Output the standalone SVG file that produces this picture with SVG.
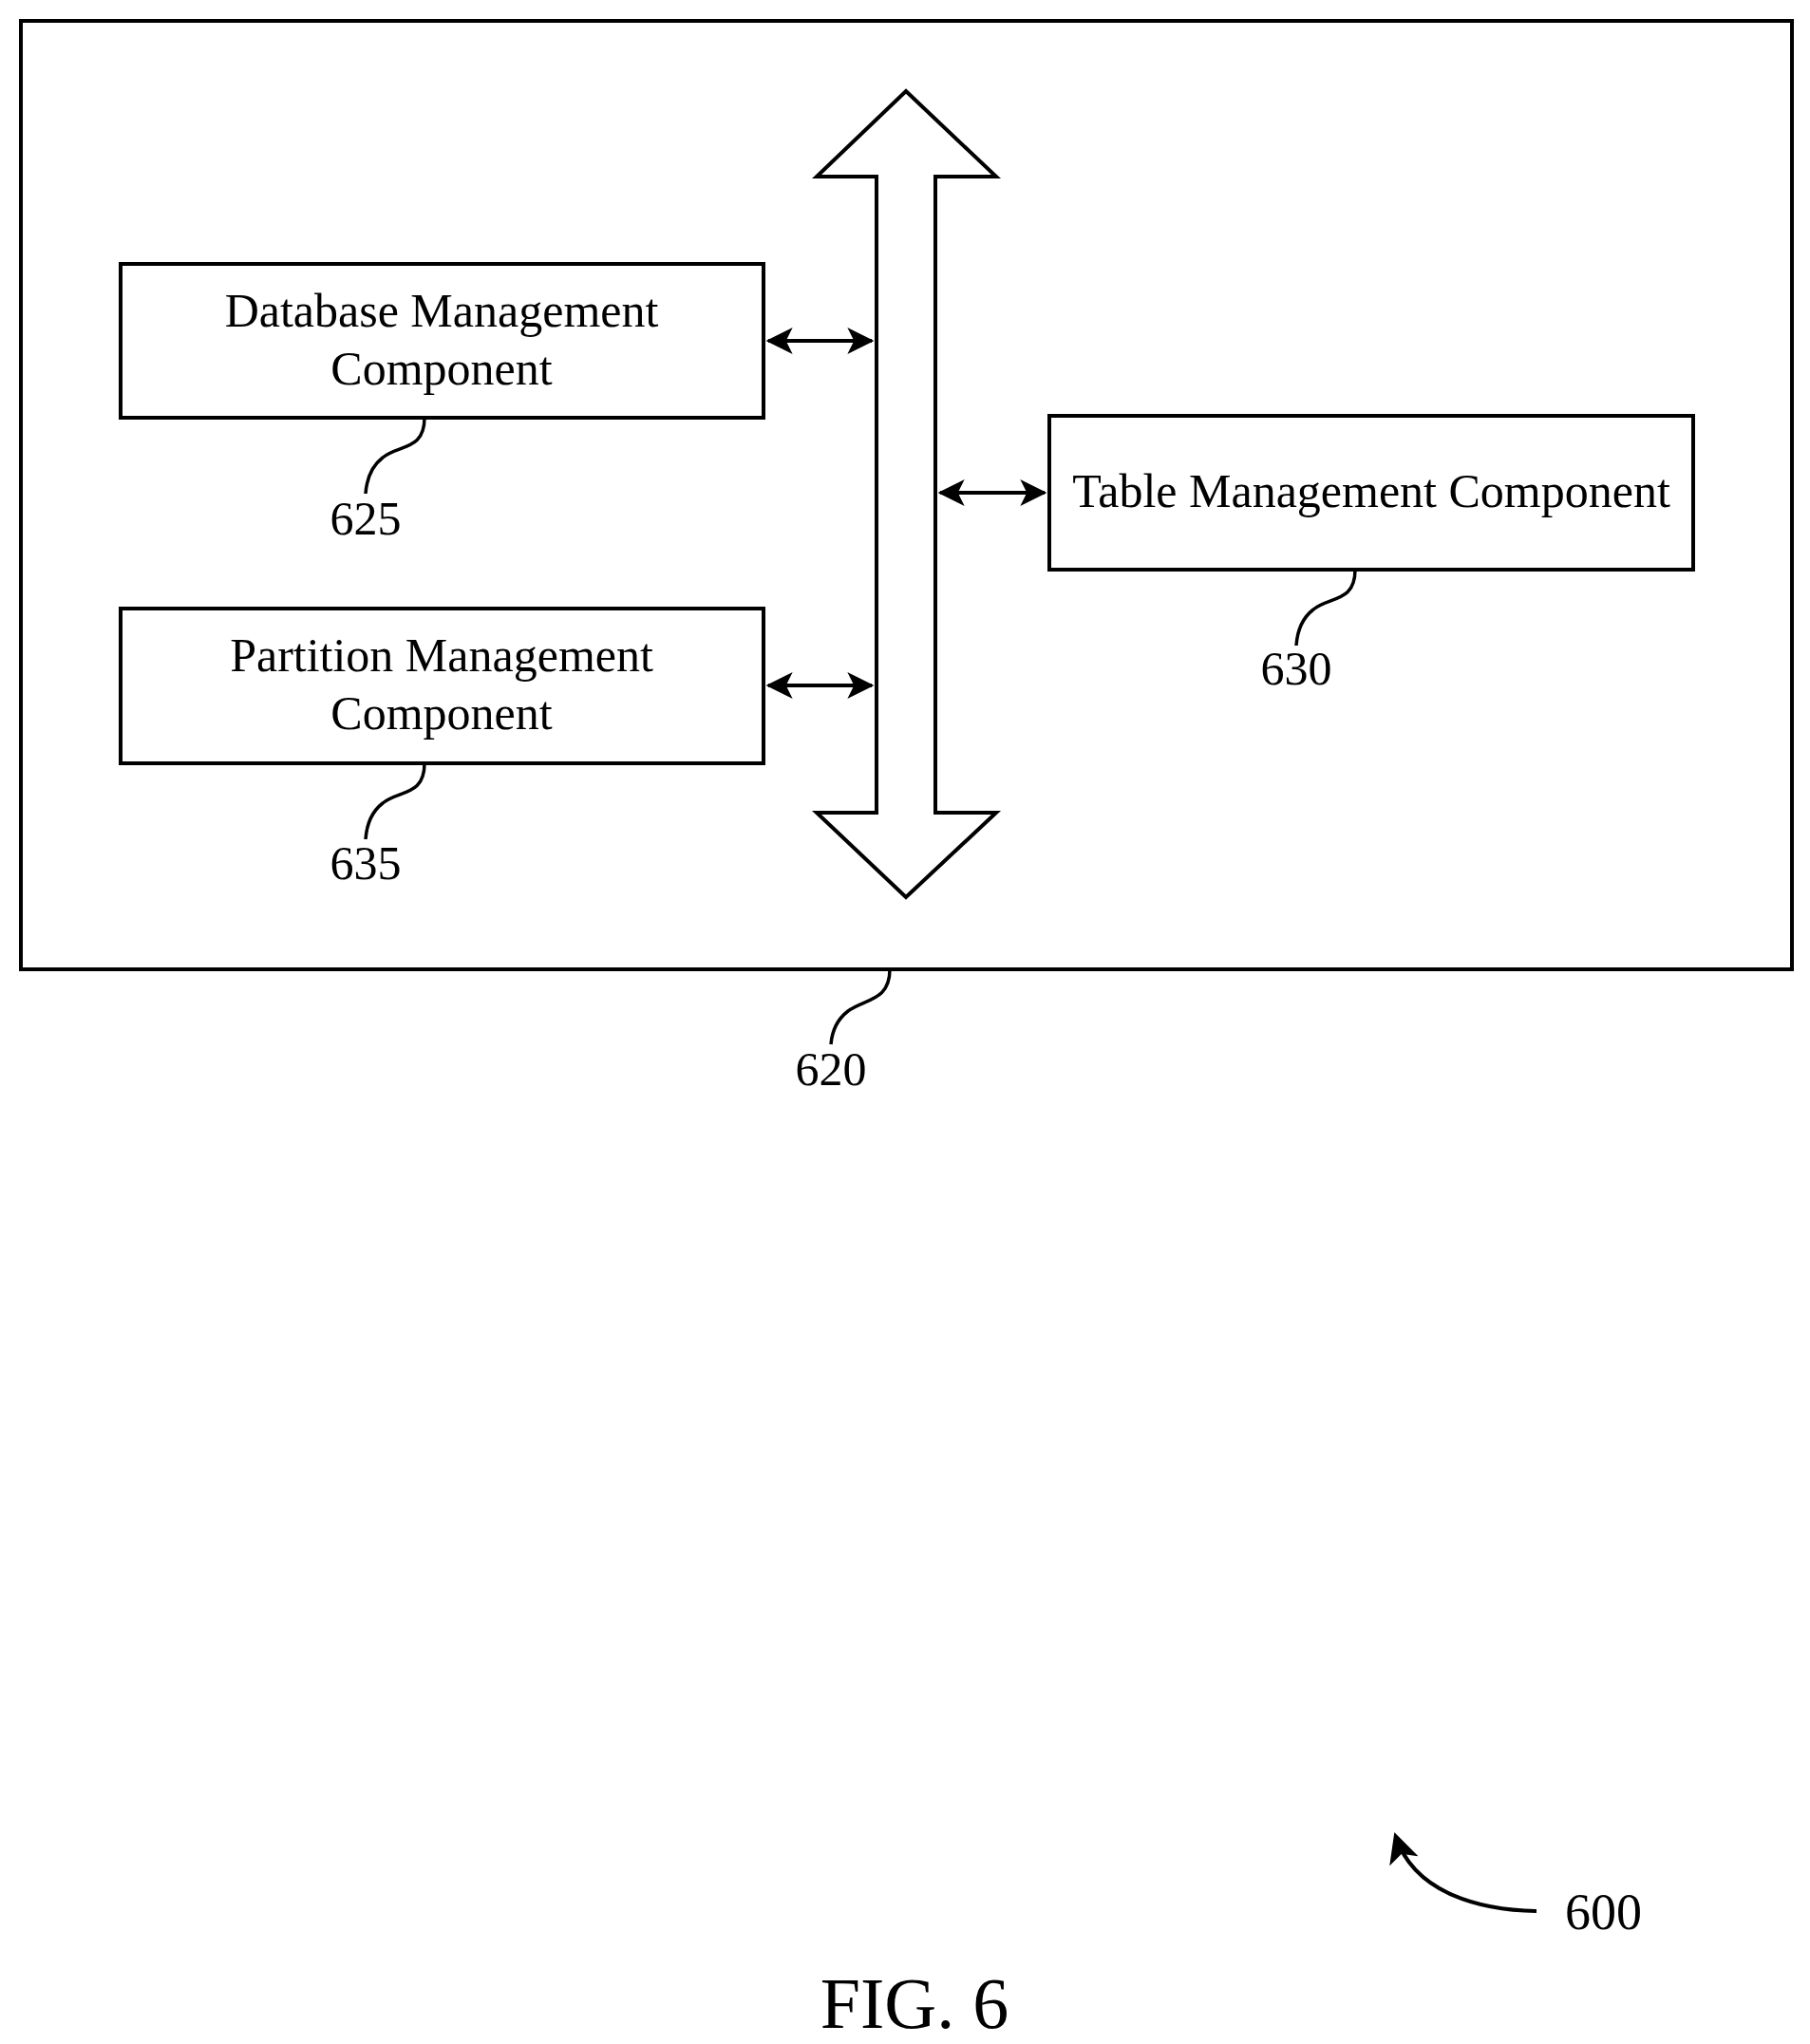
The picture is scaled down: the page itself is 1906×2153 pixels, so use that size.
<svg xmlns="http://www.w3.org/2000/svg" width="1906" height="2153" viewBox="0 0 1906 2153">
<style>
.box{fill:#fff;stroke:#000;stroke-width:4}
.t{font-family:"Liberation Serif",serif;font-size:50px;fill:#000;text-anchor:middle}
.lead{fill:none;stroke:#000;stroke-width:3.5}
.con{stroke:#000;stroke-width:4;fill:none;marker-start:url(#a);marker-end:url(#a)}
</style>
<defs>
<marker id="a" viewBox="0 0 12 12" refX="11" refY="6" markerWidth="7" markerHeight="7" orient="auto-start-reverse" markerUnits="strokeWidth">
<path d="M0,0 L12,6 L0,12 L3,6 Z" fill="#000"/>
</marker>
<marker id="b" viewBox="0 0 12 12" refX="10" refY="6" markerWidth="8" markerHeight="8" orient="auto" markerUnits="strokeWidth">
<path d="M0,0 L12,6 L0,12 L3,6 Z" fill="#000"/>
</marker>
</defs>
<rect width="1906" height="2153" fill="#fff"/>
<g id="n620">
<rect class="box" x="22" y="22" width="1865" height="999"/>
<path class="lead" d="M937,1021 C937,1055 910,1052 893,1065 C880,1075 876,1088 875,1100"/>
<text class="t" x="875" y="1143">620</text>
</g>
<g id="bus">
<path class="box" d="M954,96 L1049,186 L985,186 L985,856 L1049,856 L954,945 L860,856 L923,856 L923,186 L860,186 Z"/>
</g>
<g id="n625">
<rect class="box" x="127" y="278" width="677" height="162"/>
<text class="t" x="465" y="344">Database Management</text>
<text class="t" x="465" y="405">Component</text>
<path class="lead" d="M447,440 C447,475 420,468 403,482 C390,492 386,506 385,520"/>
<text class="t" x="385" y="563">625</text>
</g>
<g id="n635">
<rect class="box" x="127" y="641" width="677" height="163"/>
<text class="t" x="465" y="707">Partition Management</text>
<text class="t" x="465" y="768">Component</text>
<path class="lead" d="M447,804 C447,839 420,832 403,846 C390,856 386,870 385,884"/>
<text class="t" x="385" y="926">635</text>
</g>
<g id="n630">
<rect class="box" x="1105" y="438" width="678" height="162"/>
<text class="t" x="1444" y="534">Table Management Component</text>
<path class="lead" d="M1427,600 C1427,635 1400,628 1383,642 C1370,652 1366,666 1365,680"/>
<text class="t" x="1365" y="721">630</text>
</g>
<g id="connectors">
<line class="con" x1="809" y1="359" x2="918" y2="359"/>
<line class="con" x1="809" y1="722" x2="918" y2="722"/>
<line class="con" x1="990" y1="519" x2="1100" y2="519"/>
<path d="M1618,2013 C1560,2012 1490,1995 1470,1935" fill="none" stroke="#000" stroke-width="4" marker-end="url(#b)"/>
</g>
<text x="1648" y="2032" style="font-family:'Liberation Serif',serif;font-size:54px">600</text>
<text x="963" y="2136" style="font-family:'Liberation Serif',serif;font-size:76px;text-anchor:middle">FIG. 6</text>
</svg>
